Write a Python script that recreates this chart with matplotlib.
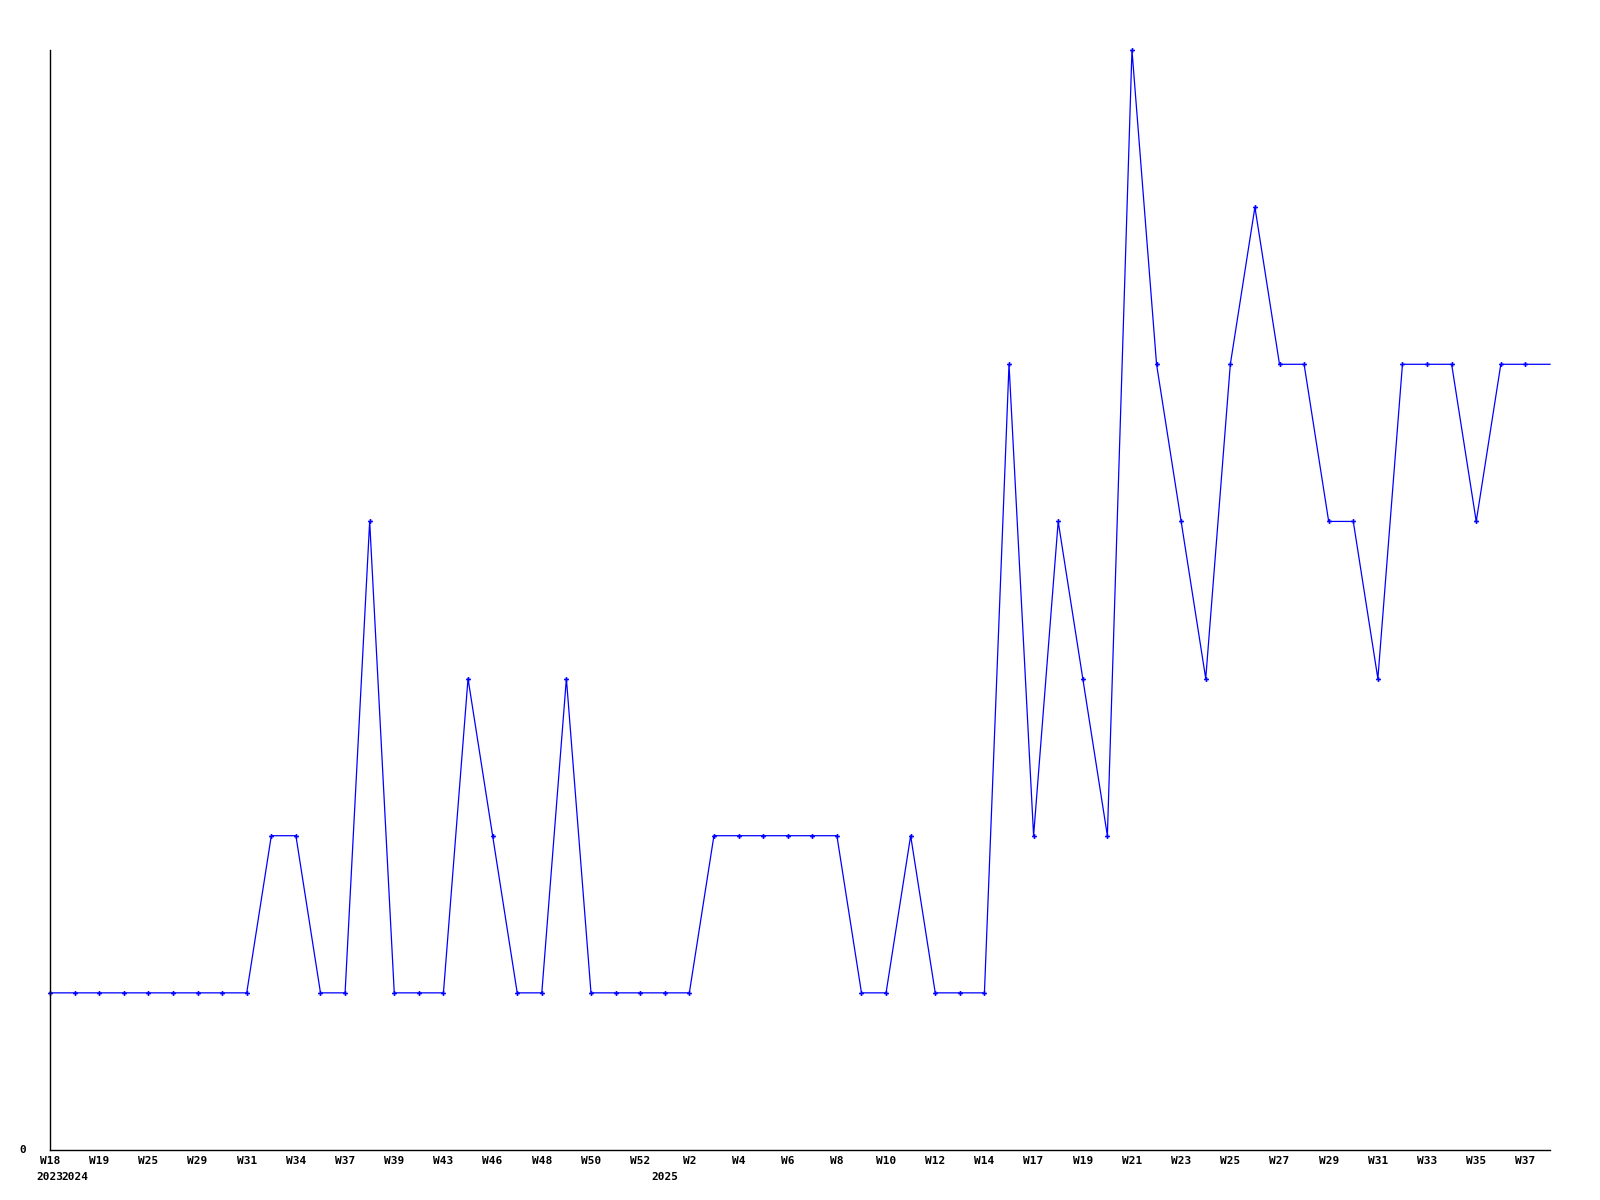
import matplotlib
matplotlib.use('Agg')
import matplotlib.pyplot as plt

plt.rcParams.update({
    'font.family': 'DejaVu Sans Mono',
    'font.weight': 'bold',
    'font.size': 8,
})

# weekly counts, one entry per reported week (last entry is the open week at the edge)
values = [1, 1, 1, 1, 1, 1, 1, 1, 1, 2, 2, 1, 1, 4, 1, 1, 1, 3, 2, 1,
          1, 3, 1, 1, 1, 1, 1, 2, 2, 2, 2, 2, 2, 1, 1, 2, 1, 1, 1, 5,
          2, 4, 3, 2, 7, 5, 4, 3, 5, 6, 5, 5, 4, 4, 3, 5, 5, 5, 4, 5,
          5, 5]

# labels shown on every second week
week_labels = ['W18', 'W19', 'W25', 'W29', 'W31', 'W34', 'W37', 'W39', 'W43',
               'W46', 'W48', 'W50', 'W52', 'W2', 'W4', 'W6', 'W8', 'W10',
               'W12', 'W14', 'W17', 'W19', 'W21', 'W23', 'W25', 'W27', 'W29',
               'W31', 'W33', 'W35', 'W37']
week_label_idx = list(range(0, 2 * len(week_labels), 2))

years = ['2023', '2024', '2025']
year_idx = [0, 1, 25]

x = list(range(len(values)))

fig = plt.figure(figsize=(16, 12), dpi=100)
ax = fig.add_axes([50 / 1600, 50 / 1200, 1500 / 1600, 1100 / 1200])

ax.plot(x, values, color='#0000ff', linewidth=0.9, marker='P', markersize=3.5,
        markeredgewidth=0, markevery=list(range(len(values) - 1)), clip_on=False)

ax.set_xlim(0, len(values) - 1)
ax.set_ylim(0, 7)

for side in ('top', 'right'):
    ax.spines[side].set_visible(False)
for side in ('left', 'bottom'):
    ax.spines[side].set_linewidth(1)
    ax.spines[side].set_color('black')

ax.set_xticks(week_label_idx)
ax.set_xticklabels(week_labels)
ax.set_yticks([0])
ax.set_yticklabels(['0'])
ax.tick_params(axis='x', length=0, pad=4)
ax.tick_params(axis='y', length=0, pad=17)
ax.yaxis.get_ticklabels()[0].set_verticalalignment('center')

for yr, idx in zip(years, year_idx):
    ax.annotate(yr, xy=(idx, 0), xycoords=('data', 'axes fraction'),
                xytext=(0, -16), textcoords='offset points',
                ha='center', va='top', fontsize=8, fontweight='bold')

fig.savefig('out.png', dpi=100)
